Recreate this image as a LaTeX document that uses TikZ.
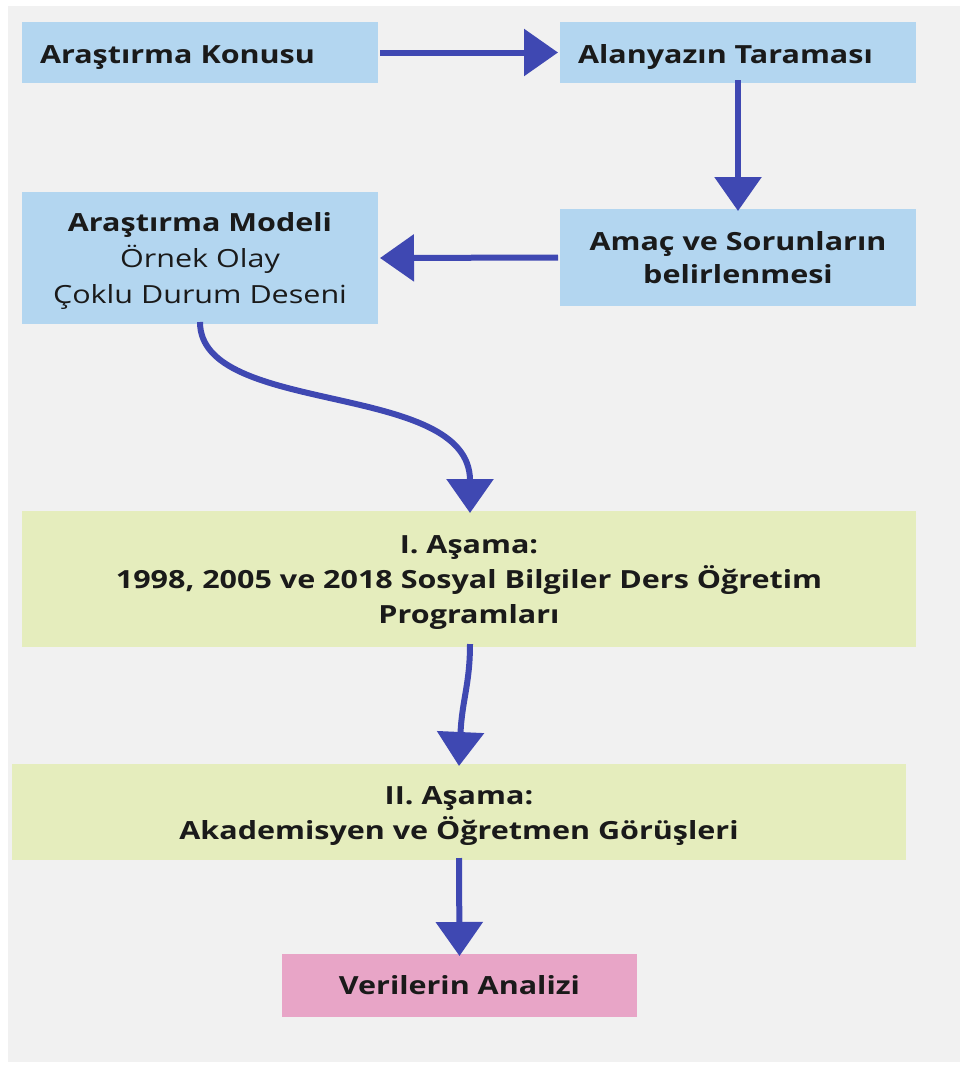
\documentclass[tikz,border=0pt]{standalone}
\usepackage{fontspec}
\setmainfont{Open Sans}[FakeStretch=1.22]
\usetikzlibrary{arrows.meta}
\definecolor{bgc}{RGB}{241,241,241}
\definecolor{bluebox}{RGB}{179,214,240}
\definecolor{greenbox}{RGB}{229,237,189}
\definecolor{pinkbox}{RGB}{232,165,199}
\definecolor{arrowc}{RGB}{63,72,178}
\definecolor{txt}{RGB}{26,26,26}
\tikzset{
  box/.style={inner sep=0pt, outer sep=0pt},
  lbl/.style={inner sep=0pt, outer sep=0pt, text=txt, font=\fontsize{25}{36}\selectfont, align=center},
  conn/.style={draw=arrowc, line width=6pt, -{Triangle[width=46pt,length=34pt]}},
}
\begin{document}
\begin{tikzpicture}[x=1pt,y=-1pt]
\useasboundingbox (0,0) rectangle (960,1066);
\fill[white] (0,0) rectangle (960,1066);
\fill[bgc] (8,6) rectangle (960,1062);
% boxes
\node[box, fill=bluebox, minimum width=356pt, minimum height=61pt] (konu) at (200,52.5) {};
\node[box, fill=bluebox, minimum width=356pt, minimum height=61pt] (alan) at (738,52.5) {};
\node[box, fill=bluebox, minimum width=356pt, minimum height=97pt] (amac) at (738,257.5) {};
\node[box, fill=bluebox, minimum width=356pt, minimum height=132pt] (model) at (200,258) {};
\node[box, fill=greenbox, minimum width=894pt, minimum height=136pt] (asama1) at (469,579) {};
\node[box, fill=greenbox, minimum width=894pt, minimum height=96pt] (asama2) at (459,812) {};
\node[box, fill=pinkbox, minimum width=355pt, minimum height=63pt] (veri) at (459.5,985.5) {};
% texts
\node[lbl, anchor=west] (konu-t) at ([xshift=18pt,yshift=-5pt]konu.west) {\textbf{Araştırma Konusu}};
\node[lbl, anchor=west] (alan-t) at ([xshift=18pt,yshift=-5pt]alan.west) {\textbf{Alanyazın Taraması}};
\node[lbl, font=\fontsize{25}{33}\selectfont] (amac-t) at ([yshift=0pt]amac.center) {\textbf{Amaç ve Sorunların}\\\textbf{belirlenmesi}};
\node[lbl] (model-t) at ([yshift=-3pt]model.center) {\textbf{Araştırma Modeli}\\Örnek Olay\\Çoklu Durum Deseni};
\node[lbl, font=\fontsize{25}{35}\selectfont] (asama1-t) at ([yshift=-4pt]asama1.center) {\textbf{I. Aşama:}\\\textbf{1998, 2005 ve 2018 Sosyal Bilgiler Ders Öğretim}\\\textbf{Programları}};
\node[lbl, font=\fontsize{25}{35}\selectfont] (asama2-t) at ([yshift=-4pt]asama2.center) {\textbf{II. Aşama:}\\\textbf{Akademisyen ve Öğretmen Görüşleri}};
\node[lbl] (veri-t) at (veri.center) {\textbf{Verilerin Analizi}};
% connectors
\draw[conn] ([xshift=2pt]konu.east) -- ([xshift=-2pt]alan.west);
\draw[conn] ([yshift=3pt]alan.south) -- ([yshift=-2pt]amac.north);
\draw[conn] ([xshift=-2pt]amac.west) -- ([xshift=2pt]model.east);
\draw[conn] ([yshift=2pt]model.south) .. controls +(0,95) and (470,380) .. ([xshift=1pt,yshift=-2pt]asama1.north);
\draw[conn] ([xshift=1pt,yshift=3pt]asama1.south) .. controls +(0,40) and (462,700) .. ([yshift=-2pt]asama2.north);
\draw[conn] ([yshift=2pt]asama2.south) -- ([yshift=-2pt]veri.north);
\end{tikzpicture}
\end{document}
